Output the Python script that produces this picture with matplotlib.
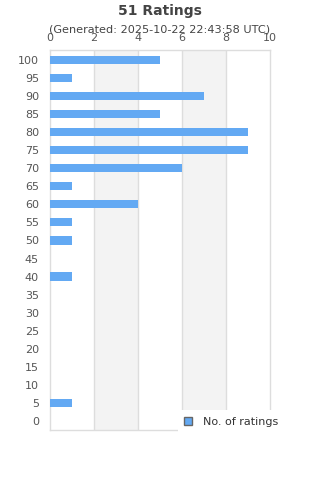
import matplotlib
matplotlib.use("Agg")
import matplotlib.pyplot as plt
from matplotlib.patches import Patch, Rectangle

categories = [100, 95, 90, 85, 80, 75, 70, 65, 60, 55, 50, 45, 40, 35, 30, 25, 20, 15, 10, 5, 0]
counts = [5, 1, 7, 5, 9, 9, 6, 1, 4, 1, 1, 0, 1, 0, 0, 0, 0, 0, 0, 1, 0]
xticks = [0, 2, 4, 6, 8, 10]

bar_color = "#63a9f3"
text_color = "#444444"
grid_color = "#dddddd"

fig = plt.figure(figsize=(3.2, 4.8), dpi=100)
ax = fig.add_axes([50/320, 1-430/480, 220/320, 380/480])

pos = list(range(len(categories)))
ax.barh(pos, counts, height=0.45, color=bar_color, zorder=3)
ax.set_ylim(20.5, -0.55)
ax.set_xlim(0, 10)

# alternating bands
for i in range(len(xticks) - 1):
    if i % 2 == 1:
        ax.axvspan(xticks[i], xticks[i+1], color="#f3f3f3", zorder=0, lw=0)
for x in xticks[1:-1]:
    ax.axvline(x, color=grid_color, lw=1, zorder=1)

ax.xaxis.tick_top()
ax.set_xticks(xticks)
ax.set_xticklabels([str(t) for t in xticks])
ax.set_yticks(pos)
ax.set_yticklabels([str(c) for c in categories])
ax.tick_params(axis="both", length=0, labelsize=8, colors="#555555")
ax.tick_params(axis="x", pad=5)
ax.tick_params(axis="y", pad=8)

for s in ax.spines.values():
    s.set_color(grid_color)
    s.set_linewidth(1)

fig.text(0.5, 1-11/480, "51 Ratings", ha="center", va="center",
         fontsize=10, fontweight="bold", color=text_color)
fig.text(0.5, 1-30/480, "(Generated: 2025-10-22 22:43:58 UTC)", ha="center", va="center",
         fontsize=8.1, color=text_color)

# white legend background covering the lower-right of the plot area
fig.add_artist(Rectangle((178/320, 1-445/480), 142/320, 35/480,
                         transform=fig.transFigure, facecolor="white",
                         edgecolor="none", zorder=5))

handle = Patch(facecolor=bar_color, edgecolor="#666666", linewidth=1)
leg = fig.legend([handle], ["No. of ratings"], loc="center left",
                 bbox_to_anchor=(173/320, 1-422/480), frameon=False, fontsize=8,
                 handlelength=0.7, handleheight=0.7, handletextpad=1.0,
                 borderpad=0.5)
leg.set_zorder(6)
for t in leg.get_texts():
    t.set_color("#333333")

fig.savefig("out.png", dpi=100)
